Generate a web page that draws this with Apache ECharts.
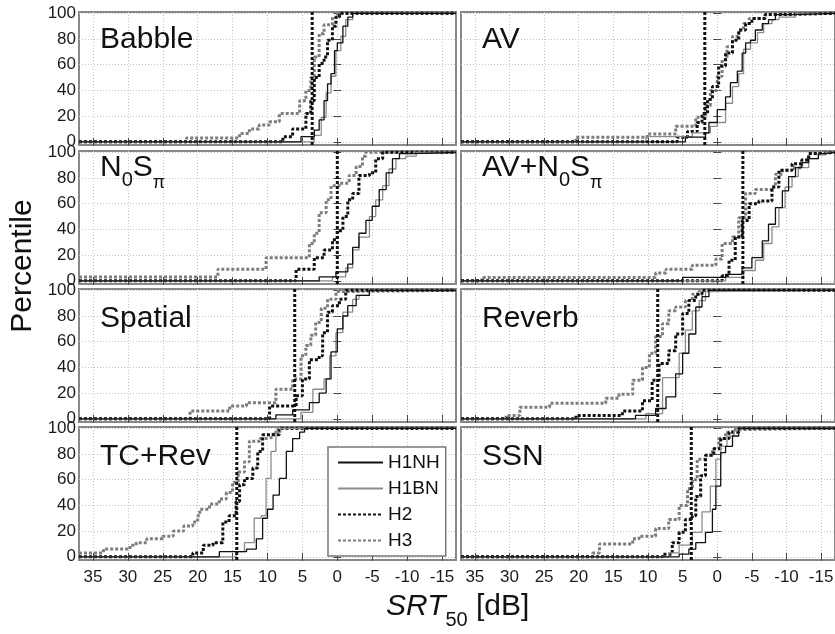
<!DOCTYPE html>
<html>
<head>
<meta charset="utf-8">
<script src="https://cdn.jsdelivr.net/npm/echarts@6/dist/echarts.min.js"></script>
<style>html,body{margin:0;padding:0;background:#fff}#c{width:835px;height:634px}</style>
</head>
<body>
<div id="c"></div>
<script>
// ---------------- DATA ----------------
const seriesNames = ['H1NH', 'H1BN', 'H2', 'H3'];
const panelNames = ['Babble', 'AV', 'N0Sπ', 'AV+N0Sπ', 'Spatial', 'Reverb', 'TC+Rev', 'SSN'];
const xTicks = [35, 30, 25, 20, 15, 10, 5, 0, -5, -10, -15];
const yTicks = [0, 20, 40, 60, 80, 100];
// vertical dotted reference line per panel (dB)
const thresholds = [3.6, 1.8, 0, -3.7, 6.1, 8.6, 14.4, 3.75];

// [SRT50 dB, percentile]
const babbleH1NH = [[37,0],[5.2,4],[3.3,9],[2.6,17],[1.9,32],[1.4,45],[0.9,53],[0.4,71],[0,77],[-0.8,90],[-1.5,97],[-2.2,100],[-17,100]];
const babbleH1BN = [[37,0],[3.3,5],[2.3,19],[1.6,38],[0.9,51],[0.2,71],[-0.5,82],[-1.2,95],[-2.2,100],[-17,100]];
const babbleH2   = [[37,0],[7.8,4],[6.4,10],[4.5,22],[3.8,32],[3.3,50],[2.6,61],[1.9,66],[1.4,79],[0.7,90],[0.2,97],[-0.3,100],[-17,100]];
const babbleH3   = [[37,0],[21.6,3],[14.0,6.5],[12.6,10],[11.2,13],[9.7,15.6],[8.3,22],[5.4,32],[4.5,40],[3.8,50],[3.3,66],[2.6,84],[1.9,91],[0.7,97],[0,100],[-17,100]];

const avH1NH = [[37,0],[4.6,3.6],[1.7,7],[1.2,15],[0,25],[-1.2,35],[-1.9,46],[-2.9,55],[-3.6,69],[-4.1,77],[-4.8,79],[-5.5,87],[-6.5,92],[-7.4,95],[-8.4,99],[-10.8,100],[-17,100]];
const avH1BN = [[37,0],[10.3,4],[3.6,7],[1,12],[0,15],[-1.2,30],[-2.2,43],[-3.1,53],[-3.8,72],[-4.8,77],[-5.8,85],[-6.7,92],[-7.9,95],[-8.9,97],[-11.3,100],[-17,100]];
const avH2   = [[37,0],[5.8,3.6],[4.3,8],[2.9,15],[2.2,22],[1.4,33],[0.7,43],[-0.2,59],[-1.2,69],[-2.2,79],[-3.1,87],[-4.1,92],[-5,96],[-6.9,99],[-7.9,100],[-17,100]];
const avH3   = [[37,0],[20.4,3.6],[10.1,6],[6,12],[3.1,19],[1.7,28],[1,40],[0,51],[-0.7,64],[-1.4,74],[-2.2,82],[-3.1,87],[-3.8,92],[-4.6,96],[-7,99],[-9.4,100],[-17,100]];

const nospiH1NH = [[37,0],[2.6,3],[0.2,7],[-1.5,13],[-2.2,26],[-3.1,37],[-4.1,47],[-5,58],[-6,71],[-7,84],[-7.9,95],[-8.9,99],[-10.8,100],[-17,100]];
const nospiH1BN = [[37,0],[0.7,3],[-1.2,10],[-2.2,24],[-3.1,34],[-4.6,50],[-5.5,63],[-6.5,74],[-7.4,87],[-8.4,95],[-9.8,97],[-11.3,100],[-17,100]];
const nospiH2   = [[37,0],[5.9,9],[3.3,18],[1.9,24],[0.7,32],[0,39],[-0.8,50],[-1.5,63],[-2.2,68],[-3.1,82],[-4.6,84],[-5.5,95],[-6.5,100],[-17,100]];
const nospiH3   = [[37,3],[17.1,9],[10.2,18],[4,29],[3.3,37],[2.6,53],[1.6,63],[0.9,74],[-0.3,76],[-1.7,82],[-2.7,89],[-3.6,97],[-4.1,100],[-17,100]];

const avnospiH1NH = [[37,0],[5,2.6],[-1.2,5],[-3.6,10],[-5,18],[-6.5,31],[-7.4,44],[-8.4,57],[-9.4,70],[-10.3,81],[-11.3,88],[-12.2,92],[-13.2,95],[-14.6,99],[-15.6,100],[-17,100]];
const avnospiH1BN = [[37,0],[-1.2,2.6],[-3.8,8],[-5.5,16],[-6.7,29],[-7.9,42],[-8.9,57],[-9.8,73],[-10.8,81],[-11.7,88],[-13.2,95],[-14.6,98],[-15.6,100],[-17,100]];
const avnospiH2   = [[37,0],[-0.7,4],[-1.7,16],[-2.6,34],[-3.6,47],[-4.6,60],[-6,62],[-7.9,73],[-8.9,86],[-10.8,91],[-12.2,94],[-13.2,99],[-14.6,100],[-17,100]];
const avnospiH3   = [[37,0],[34,2.6],[8.9,6],[7.4,9],[3.6,12],[0.2,17],[-0.7,29],[-2.2,34],[-3.1,49],[-4.1,68],[-5.5,71],[-7.9,73],[-8.4,83],[-9.4,86],[-10.8,88],[-12.2,94],[-13.2,99],[-14.2,100],[-17,100]];

const spatialH1NH = [[37,0],[8.8,3],[6.4,7],[4,12.5],[2.6,20],[1.6,31],[0.9,52],[0,70],[-0.8,80],[-1.5,88],[-2.7,96],[-4.6,100],[-17,100]];
const spatialH1BN = [[37,0],[5.2,5],[3.5,23],[1.9,31],[1.1,49],[0.2,67],[-0.8,83],[-2.2,93],[-3.1,96],[-4.6,100],[-17,100]];
const spatialH2   = [[37,0],[9.7,10],[5.9,18],[5,31],[4,46],[2.6,49],[2.1,67],[1.4,83],[0.7,88],[-0.3,93],[-1.2,100],[-17,100]];
const spatialH3   = [[37,0],[21.1,6],[15.4,10],[13,12.5],[8.8,23],[6.4,31],[5.2,49],[4.5,57],[3.8,65],[3.1,75],[2.3,86],[1.4,93],[0.2,99],[-0.3,100],[-17,100]];

const reverbH1NH = [[37,0],[11.8,2.6],[8.9,8],[7.4,17],[6,35],[5,51],[4.1,66],[3.1,87],[2.2,95],[1.2,100],[-17,100]];
const reverbH1BN = [[37,0],[10.3,4],[7.9,32],[6.5,32],[5.5,51],[4.6,69],[3.6,84],[2.6,92],[1.7,99],[0.7,100],[-17,100]];
const reverbH2   = [[37,0],[20.4,2.6],[13.7,6],[10.8,14],[9.4,30],[8.4,43],[7,53],[6,66],[5,82],[4.1,92],[3.1,97],[2.2,100],[-17,100]];
const reverbH3   = [[37,0],[30.5,2.6],[28.5,9],[24.2,12],[16.1,16],[14.2,19],[12.2,30],[10.8,40],[9.8,51],[8.9,64],[7.9,74],[7,84],[6,87],[4.6,92],[3.6,97],[2.6,100],[-17,100]];

const tcrevH1NH = [[37,0],[16.9,4],[13,6],[11.6,14],[10.7,30],[10,37],[9.2,48],[8.3,61],[7.3,82],[6.4,92],[5.4,97],[4.7,100],[-17,100]];
const tcrevH1BN = [[37,0],[14.5,4],[13.3,11],[11.9,30],[10.9,32],[10.2,61],[9.5,82],[8.8,97],[8.1,100],[-17,100]];
const tcrevH2   = [[37,0],[20.7,3],[19.2,9],[17.8,11],[16.4,27],[15.5,32],[14.5,43],[14,56],[13.3,61],[12.1,69],[11.4,82],[10.7,95],[9.2,95],[8.3,100],[-17,100]];
const tcrevH3   = [[37,3],[33.5,6],[29.7,9],[28.8,11],[27.3,14],[25,16],[23.5,20],[22,24],[20.7,27],[20,32],[19.7,37],[18.3,41],[16.9,45],[15.9,50],[15,58],[14.2,66],[13.3,74],[12.6,90],[11.1,92],[10.2,93],[9.2,97],[8.5,100],[-17,100]];

const ssnH1NH = [[37,0],[5.5,2],[4.1,6],[3.1,11],[1.7,19],[0.7,37],[0.2,55],[-0.5,81],[-1.2,86],[-2.2,94],[-3.1,100],[-17,100]];
const ssnH1BN = [[37,0],[7,3],[5.5,9],[3.6,19],[2.2,35],[1,55],[0.2,76],[-0.5,86],[-1.4,94],[-2.4,98],[-3.1,100],[-17,100]];
const ssnH2   = [[37,0],[7.9,2],[6.5,11],[5.5,19],[4.6,29],[3.6,32],[3.1,47],[2.4,63],[1.7,79],[0.5,84],[-0.5,92],[-1.7,97],[-3.1,100],[-17,100]];
const ssnH3   = [[37,0],[18,3],[17,10],[12.2,14],[11.3,16],[8.9,22],[7,29],[5.5,40],[4.3,53],[3.6,60],[2.9,76],[1.7,79],[0.7,84],[-0.2,92],[-1.2,97],[-2.2,99],[-3.1,100],[-17,100]];

const panelData = [
  [babbleH1NH, babbleH1BN, babbleH2, babbleH3],
  [avH1NH, avH1BN, avH2, avH3],
  [nospiH1NH, nospiH1BN, nospiH2, nospiH3],
  [avnospiH1NH, avnospiH1BN, avnospiH2, avnospiH3],
  [spatialH1NH, spatialH1BN, spatialH2, spatialH3],
  [reverbH1NH, reverbH1BN, reverbH2, reverbH3],
  [tcrevH1NH, tcrevH1BN, tcrevH2, tcrevH3],
  [ssnH1NH, ssnH1BN, ssnH2, ssnH3]
];

// ---------------- LAYOUT / STYLE ----------------
const FONT = "'Liberation Sans', Arial, Helvetica, sans-serif";
const X_MIN = -17, X_MAX = 37, Y_MIN = -2.5, Y_MAX = 101;
const rowTops = [12, 151, 289, 427];
const rowH = 133;
const colLefts = [79, 461];
const colWidths = [377, 374];
const seriesStyle = {
  H1NH: {color: '#111', width: 1.3, type: 'solid'},
  H1BN: {color: '#8c8c8c', width: 1.3, type: 'solid'},
  H2:   {color: '#111', width: 3, type: [3, 2]},
  H3:   {color: '#7d7d7d', width: 3, type: [3, 2]}
};
const drawOrder = [3, 2, 1, 0];

const grids = [], xAxes = [], yAxes = [], series = [], graphics = [];
const N = panelNames.length;
for (let i = 0; i < N; i++) {
  const row = Math.floor(i / 2), col = i % 2;
  grids.push({left: colLefts[col], top: rowTops[row], width: colWidths[col], height: rowH,
    outerBoundsMode: 'none', containLabel: false,
    show: true, borderColor: '#888', borderWidth: 2, backgroundColor: '#fff'});
}
for (let i = 0; i < N; i++) {
  const row = Math.floor(i / 2), col = i % 2;
  xAxes.push({type: 'value', gridIndex: i, min: X_MIN, max: X_MAX, inverse: true,
    axisLine: {show: false},
    axisTick: {show: true, inside: true, length: 4, customValues: xTicks, lineStyle: {color: '#444'}},
    axisLabel: {show: row === 3, customValues: xTicks, fontSize: 17, color: '#1a1a1a', fontFamily: FONT, margin: 9},
    splitLine: {show: true, lineStyle: {color: '#c4c4c4', type: [1, 2], width: 1}}
  });
  yAxes.push({type: 'value', gridIndex: i, min: Y_MIN, max: Y_MAX,
    axisLine: {show: false},
    axisTick: {show: true, inside: true, length: 4, customValues: yTicks, lineStyle: {color: '#444'}},
    axisLabel: {show: col === 0, customValues: yTicks, fontSize: 17, color: '#1a1a1a', fontFamily: FONT, margin: 3},
    splitLine: {show: true, lineStyle: {color: '#c4c4c4', type: [1, 2], width: 1}}
  });
}
// mirrored tick-only axes (top / right)
for (let i = 0; i < N; i++) {
  xAxes.push({type: 'value', gridIndex: i, min: X_MIN, max: X_MAX, inverse: true, position: 'top',
    axisLine: {show: false}, axisLabel: {show: false}, splitLine: {show: false},
    axisTick: {show: true, inside: true, length: 4, customValues: xTicks, lineStyle: {color: '#444'}}});
  yAxes.push({type: 'value', gridIndex: i, min: Y_MIN, max: Y_MAX, position: 'right',
    axisLine: {show: false}, axisLabel: {show: false}, splitLine: {show: false},
    axisTick: {show: true, inside: true, length: 4, customValues: yTicks, lineStyle: {color: '#444'}}});
}
for (let i = 0; i < N; i++) {
  drawOrder.forEach(k => {
    const nm = seriesNames[k], st = seriesStyle[nm];
    series.push({type: 'line', name: nm, xAxisIndex: i, yAxisIndex: i, data: panelData[i][k],
      step: 'end', symbol: 'none', showSymbol: false, silent: true, animation: false,
      lineStyle: {color: st.color, width: st.width, type: st.type}, itemStyle: {color: st.color}, z: 3});
  });
  series.push({type: 'line', name: 'threshold', xAxisIndex: i, yAxisIndex: i,
    data: [[thresholds[i], Y_MIN], [thresholds[i], Y_MAX]],
    symbol: 'none', silent: true, animation: false, z: 4,
    lineStyle: {color: '#111', width: 3, type: [3, 2]}});
}

// panel labels
const subRich = {
  n: {fontSize: 30, fontFamily: FONT, color: '#111'},
  s: {fontSize: 20, fontFamily: FONT, color: '#111', padding: [24, 0, 0, 0]},
  p: {fontSize: 18, fontFamily: FONT, color: '#111', padding: [30, 0, 0, 0]}
};
const labelTexts = ['Babble', 'AV', '{n|N}{s|0}{n|S}{p|π}', '{n|AV+N}{s|0}{n|S}{p|π}', 'Spatial', 'Reverb', 'TC+Rev', 'SSN'];
const labelTopOffset = [13, 13, 2, 2, 15, 15, 15, 15];
for (let i = 0; i < N; i++) {
  const row = Math.floor(i / 2), col = i % 2;
  const isRich = labelTexts[i].indexOf('{') >= 0;
  graphics.push({type: 'text', left: colLefts[col] + 21, top: rowTops[row] + labelTopOffset[i], z: 10,
    style: isRich ? {text: labelTexts[i], rich: subRich, fill: '#111'}
                  : {text: labelTexts[i], font: '30px ' + FONT, fill: '#111'}});
}
graphics.push({type: 'text', x: 23, y: 266, rotation: Math.PI / 2, z: 10,
  style: {text: 'Percentile', font: '30px ' + FONT, fill: '#111', align: 'center', verticalAlign: 'middle'}});
graphics.push({type: 'text', left: 386, top: 592, z: 10,
  style: {text: '{i|SRT}{s|50}{n| [dB]}', fill: '#111', rich: {
    i: {fontSize: 30, fontStyle: 'italic', fontFamily: FONT, color: '#111'},
    s: {fontSize: 20, fontFamily: FONT, color: '#111', padding: [26, 0, 0, 0]},
    n: {fontSize: 30, fontFamily: FONT, color: '#111'}}}});

const chart = echarts.init(document.getElementById('c'), null, {renderer: 'canvas'});
chart.setOption({
  animation: false,
  backgroundColor: '#fff',
  grid: grids,
  xAxis: xAxes,
  yAxis: yAxes,
  legend: {data: seriesNames, orient: 'vertical', left: 328, top: 447, z: 20,
    backgroundColor: '#fff', borderColor: '#777', borderWidth: 1.5, borderRadius: 0,
    padding: [6, 6, 6, 9], itemWidth: 45, itemHeight: 12, itemGap: 7,
    itemStyle: {opacity: 0},
    textStyle: {fontSize: 19, color: '#111', fontFamily: FONT}, selectedMode: false},
  series: series,
  graphic: graphics
});
</script>
</body>
</html>
